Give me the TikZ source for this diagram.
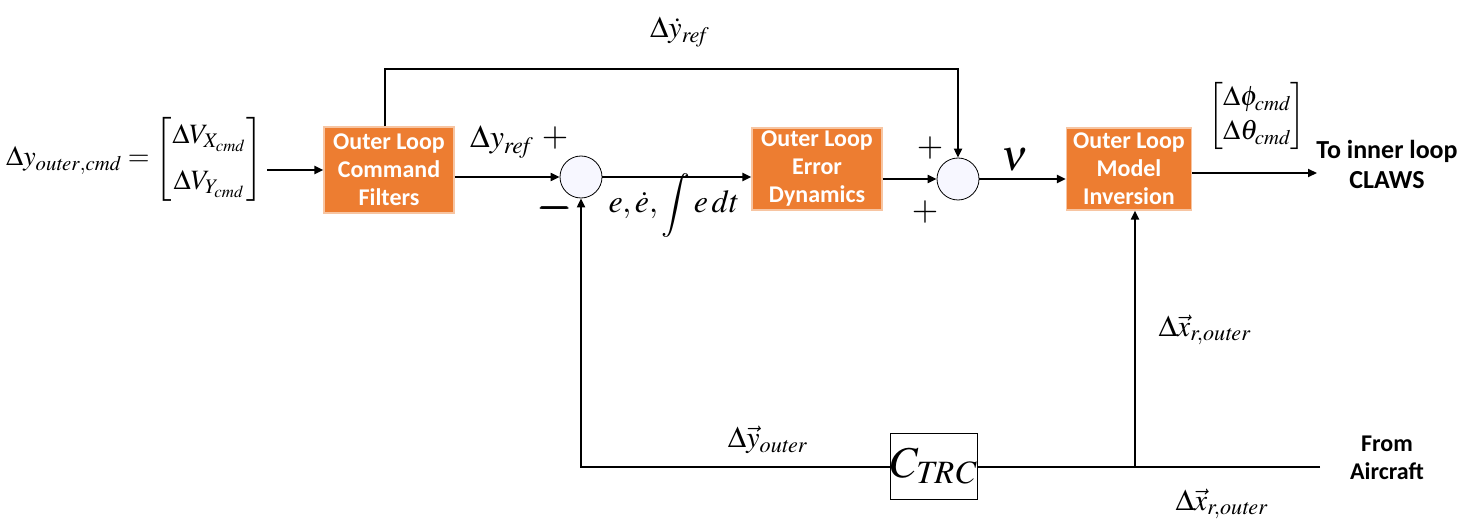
\documentclass[tikz,border=0pt]{standalone}
\usepackage{amsmath}
\usepackage{mathptmx}
\usepackage[no-math]{fontspec}
\setmainfont{Liberation Serif}
\newfontfamily\boxfont{Carlito}
\usetikzlibrary{positioning, arrows.meta, calc}
\definecolor{blkorange}{RGB}{237,125,49}

\begin{document}
\begin{tikzpicture}[
  x=0.5pt, y=-0.5pt,
  font=\fontsize{15}{18}\selectfont,
  block/.style={
    draw=blkorange!45!white, fill=blkorange, text=white, line width=0.6pt,
    font=\boxfont\bfseries\fontsize{12}{14}\selectfont,
    minimum width=65pt, minimum height=41pt, align=center, inner sep=1pt
  },
  sumnode/.style={circle, draw, thin, fill=blue!3, minimum size=21pt, inner sep=0pt},
  gain/.style={draw, thin, minimum width=38.5pt, minimum height=33pt, inner sep=0pt},
  sig/.style={line width=1pt},
  arrow/.style={sig, -{Triangle[length=4.5pt, width=4pt]}},
  sign/.style={font=\fontsize{17}{18}\selectfont, inner sep=0pt},
  note/.style={font=\boxfont\bfseries\fontsize{13}{15}\selectfont, align=center}
]
\useasboundingbox (0,0) rectangle (1471,529);

% blocks
\node[block, minimum height=43pt] (filt) at (389,170) {Outer Loop\\Command\\Filters};
\node[block] (errd) at (817,169) {Outer Loop\\Error\\Dynamics};
\node[block, minimum width=62.5pt] (minv) at (1129,169) {Outer Loop\\Model\\Inversion};
\node[sumnode] (sumA) at (581,177) {};
\node[sumnode] (sumB) at (958,179) {};
\node[gain] (ctrc) at (934,466) {\fontsize{22}{24}\selectfont$C_{\mathit{TRC}}$};

% ends of open lines
\coordinate (ffl) at (385,69);
\coordinate (toinner) at (1317,173);
\coordinate (fromac) at (1320,467);
\coordinate (tap) at (1135,467);

% signals
\node[anchor=east, inner sep=0pt, font=\fontsize{14}{18}\selectfont] (ycmd) at (263,159) {\setlength{\arraycolsep}{3pt}$\Delta y_{\mathit{outer},\mathit{cmd}} = \begin{bmatrix}\Delta V_{X_{\mathit{cmd}}}\\[5pt] \Delta V_{Y_{\mathit{cmd}}}\end{bmatrix}$};
\node (lyref) at (502,142) {\fontsize{16}{18}\selectfont$\Delta y_{\mathit{ref}}$};
\node (lydot) at (680,32) {$\Delta\dot y_{\mathit{ref}}$};
\node (lerr) at (674,205) {\fontsize{16}{18}\selectfont$e,\dot e,\displaystyle\int e\,dt$};
\node (lnu) at (1015,160) {\fontsize{22}{24}\selectfont$\nu$};
\node (lcmd) at (1257,116) {\fontsize{14}{17}\selectfont$\begin{bmatrix}\Delta\phi_{\mathit{cmd}}\\ \Delta\theta_{\mathit{cmd}}\end{bmatrix}$};
\node (lyout) at (768,440) {$\Delta\vec y_{\mathit{outer}}$};
\node (lxup) at (1205,330) {$\Delta\vec x_{r,\mathit{outer}}$};
\node (lxlow) at (1222,504) {$\Delta\vec x_{r,\mathit{outer}}$};
\node[note] (linner) at (1387,164) {To inner loop\\CLAWS};
\node[note, font=\boxfont\bfseries\fontsize{12}{14}\selectfont] (lac) at (1387,458) {From\\Aircraft};

% signs
\node[sign] (pA) at (555,138) {$+$};
\node[sign, font=\fontsize{22}{18}\selectfont] (mA) at (556,208) {$\pmb{-}$};
\node[sign] (pB1) at (930,148) {$+$};
\node[sign] (pB2) at (925,212) {$+$};

\draw[arrow] ([xshift=2pt]ycmd.east |- filt.west) -- (filt.west);
\draw[arrow] (filt.east |- sumA) -- (sumA);
\draw[arrow] (sumA) -- (sumA -| errd.west);
\draw[arrow] (errd.east |- sumB) -- (sumB);
\draw[arrow] (sumB) -- (sumB -| minv.west);
\draw[arrow] (filt.north -| ffl) |- (sumB |- ffl) -- (sumB.north);
\draw[arrow] (minv.east |- toinner) -- (toinner);
\draw[sig] (fromac) -- (ctrc.east |- fromac);
\draw[arrow] (ctrc.west |- fromac) -| (sumA.south);
\draw[arrow] (tap) -- (tap |- minv.south);

\end{tikzpicture}
\end{document}
